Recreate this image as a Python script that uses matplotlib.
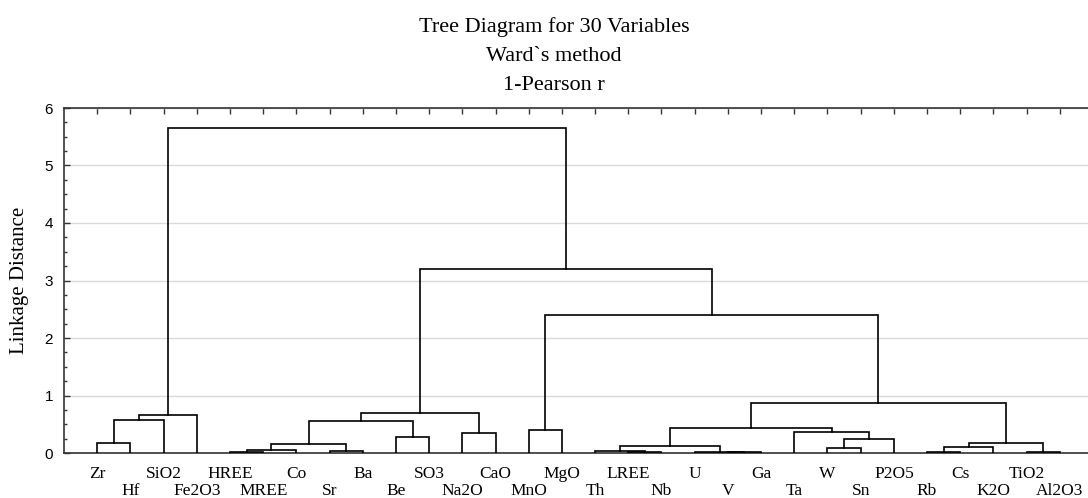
import matplotlib.pyplot as plt
from matplotlib.ticker import MultipleLocator

# -----------------------------
# Data (leaf order and Ward linkage, read off the tree)
# -----------------------------
leaves = [
    "Zr", "Hf", "SiO2", "Fe2O3", "HREE", "MREE", "Co", "Sr", "Ba", "Be",
    "SO3", "Na2O", "CaO", "MnO", "MgO", "Th", "LREE", "Nb", "U", "V",
    "Ga", "Ta", "W", "Sn", "P2O5", "Rb", "Cs", "K2O", "TiO2", "Al2O3",
]

# each merge: (left member, right member, linkage distance)
merge_left = [
    "Zr", "m1", "m2", "HREE", "m4", "Sr", "m5", "Be", "m7", "Na2O",
    "m9", "MnO", "LREE", "Th", "V", "U", "m14", "W", "m18", "Ta",
    "m17", "Rb", "m22", "TiO2", "m23", "m21", "m12", "m11", "m3",
]
merge_right = [
    "Hf", "SiO2", "Fe2O3", "MREE", "Co", "Ba", "m6", "SO3", "m8", "CaO",
    "m10", "MgO", "Nb", "m13", "Ga", "m15", "m16", "Sn", "P2O5", "m19",
    "m20", "Cs", "K2O", "Al2O3", "m24", "m25", "m26", "m27", "m28",
]
merge_height = [
    0.17, 0.57, 0.66, 0.01, 0.06, 0.03, 0.16, 0.28, 0.56, 0.34,
    0.70, 0.40, 0.02, 0.04, 0.01, 0.02, 0.13, 0.08, 0.24, 0.37,
    0.43, 0.02, 0.10, 0.02, 0.17, 0.87, 2.40, 3.20, 5.65,
]

title_lines = ["Tree Diagram for 30 Variables", "Ward`s method", "1-Pearson r"]

# -----------------------------
# Plot
# -----------------------------
W, H = 1088, 498
fig = plt.figure(figsize=(W / 100, H / 100), dpi=100)
ax = fig.add_axes([64 / W, (H - 453) / H, (1093 - 64) / W, (453 - 108) / H])

serif = ["Liberation Serif", "DejaVu Serif"]
sans = ["Liberation Sans", "DejaVu Sans"]

xpos = {name: i + 1 for i, name in enumerate(leaves)}
ypos = {name: 0.0 for name in leaves}

for k, (a, b, h) in enumerate(zip(merge_left, merge_right, merge_height)):
    xa, xb = xpos[a], xpos[b]
    ax.plot([xa, xa, xb, xb], [ypos[a], h, h, ypos[b]],
            color="black", lw=1.2, solid_joinstyle="miter", zorder=3)
    name = "m%d" % (k + 1)
    xpos[name] = (xa + xb) / 2
    ypos[name] = h

ax.set_xlim(0, len(leaves) + 1)
ax.set_ylim(0, 6)

# leaf labels in two staggered rows
for i, name in enumerate(leaves):
    off = -25 if i % 2 == 0 else -42
    ax.annotate(name, xy=(i + 1, 0), xycoords=("data", "axes fraction"),
                xytext=(0, off), textcoords="offset pixels",
                ha="center", va="baseline", fontsize=12.5, family=serif)

ax.set_xticks(range(1, len(leaves) + 1))
ax.tick_params(axis="x", which="both", bottom=False, top=True,
               labelbottom=False, direction="in", length=4, width=1,
               color="#333333")

ax.yaxis.set_major_locator(MultipleLocator(1))
ax.yaxis.set_minor_locator(MultipleLocator(0.25))
ax.tick_params(axis="y", which="major", direction="in", length=4, width=1,
               pad=8, labelsize=11, color="#333333")
ax.tick_params(axis="y", which="minor", direction="in", length=2.5, width=1,
               color="#333333")
for lab in ax.get_yticklabels():
    lab.set_family(sans)

ax.grid(axis="y", which="major", color="#d9d9d9", lw=1)
ax.set_axisbelow(True)

for sp in ax.spines.values():
    sp.set_color("#333333")
    sp.set_linewidth(1.2)

ax.set_ylabel("Linkage Distance", fontsize=15, family=serif, labelpad=11)

for j, line in enumerate(title_lines):
    fig.text(554 / W, 1 - (32 + 29 * j) / H, line, ha="center",
             va="baseline", fontsize=16, family=serif)

fig.savefig("out.png", dpi=100)
